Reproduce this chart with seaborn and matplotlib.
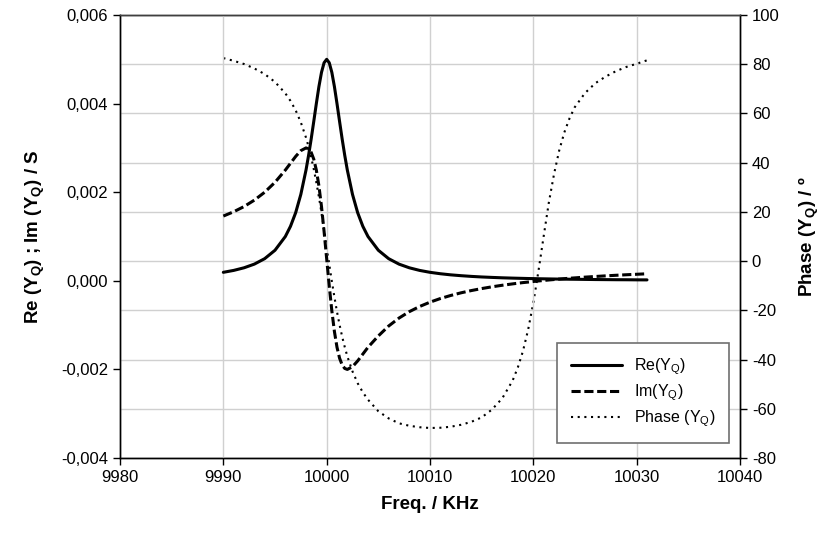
import matplotlib
matplotlib.use("Agg")
import matplotlib.pyplot as plt
from matplotlib.ticker import MultipleLocator, FuncFormatter
import numpy as np
import pandas as pd
import seaborn as sns

# ---- data ----
freq_khz = [9990, 9991, 9992, 9993, 9994, 9995, 9996, 9996.5, 9997, 9997.5,
            9998, 9998.25, 9998.5, 9998.75, 9999, 9999.25, 9999.5, 9999.75,
            10000, 10000.25, 10000.5, 10000.75, 10001, 10001.25, 10001.5,
            10001.75, 10002, 10002.5, 10003, 10003.5, 10004, 10005, 10006,
            10007, 10008, 10009, 10010, 10011, 10012, 10013, 10014, 10015,
            10016, 10017, 10018, 10018.5, 10019, 10019.5, 10020, 10020.5,
            10021, 10021.5, 10022, 10022.5, 10023, 10023.5, 10024, 10025,
            10026, 10027, 10028, 10029, 10030, 10031]

re_yq = [0.000192, 0.000235, 0.000294, 0.000377, 0.0005, 0.00069, 0.001,
         0.001231, 0.001538, 0.001951, 0.0025, 0.002832, 0.0032, 0.003596,
         0.004, 0.004384, 0.004706, 0.004923, 0.005, 0.004923, 0.004706,
         0.004384, 0.004, 0.003596, 0.0032, 0.002832, 0.0025, 0.001951,
         0.001538, 0.001231, 0.001, 0.00069, 0.0005, 0.000377, 0.000294,
         0.000235, 0.000192, 0.00016, 0.000135, 0.000116, 0.0001, 0.000087,
         0.000077, 0.000068, 0.000061, 0.000058, 0.000055, 0.000052, 0.00005,
         0.000047, 0.000045, 0.000043, 0.000041, 0.000039, 0.000038,
         0.000036, 0.000035, 0.000032, 0.000029, 0.000027, 0.000025,
         0.000024, 0.000022, 0.000021]

im_yq = [0.001462, 0.001559, 0.001676, 0.001821, 0.002, 0.002224, 0.0025,
         0.002654, 0.002808, 0.002939, 0.003, 0.002978, 0.0029, 0.002747,
         0.0025, 0.002144, 0.001676, 0.001115, 0.0005, -0.000115, -0.000676,
         -0.001144, -0.0015, -0.001747, -0.0019, -0.001978, -0.002,
         -0.001939, -0.001808, -0.001654, -0.0015, -0.001244, -0.00102,
         -0.000841, -0.000696, -0.000579, -0.000482, -0.0004, -0.000331,
         -0.000271, -0.00022, -0.000175, -0.000135, -0.0001, -0.000069,
         -0.000054, -0.00004, -0.000028, -0.000015, -0.000003, 0.000008,
         0.000019, 0.000029, 0.000039, 0.000049, 0.000058, 0.000066,
         0.000083, 0.000098, 0.000112, 0.000125, 0.000137, 0.000148,
         0.000159]

phase_yq = [82.5, 81.4, 80.1, 78.3, 76.0, 72.8, 68.2, 65.1, 61.3, 56.4,
            50.2, 46.5, 42.2, 37.4, 32.0, 26.1, 19.6, 12.8, 5.7, -1.3, -8.2,
            -14.6, -20.6, -25.9, -30.7, -34.9, -38.7, -44.8, -49.6, -53.3,
            -56.3, -61.0, -63.9, -65.9, -66.9, -67.5, -67.8, -67.7, -67.3,
            -66.5, -65.3, -63.5, -60.3, -55.7, -48.5, -43.2, -36.5, -27.8,
            -16.9, -3.9, 10.1, 23.8, 35.3, 44.9, 52.3, 58.0, 62.5, 68.3,
            72.3, 75.0, 77.2, 78.9, 80.2, 81.6]

x_ticks = [9980, 9990, 10000, 10010, 10020, 10030, 10040]
series_labels = ["Re(Y$_\\mathregular{Q}$)", "Im(Y$_\\mathregular{Q}$)",
                 "Phase (Y$_\\mathregular{Q}$)"]

df = pd.DataFrame({"freq": freq_khz, "re": re_yq, "im": im_yq,
                   "phase": phase_yq})

# ---- style ----
sns.set_style("white")
plt.rcParams["font.family"] = ["Liberation Sans", "DejaVu Sans"]
plt.rcParams["text.color"] = "black"
plt.rcParams["axes.labelcolor"] = "black"
plt.rcParams["xtick.color"] = "black"
plt.rcParams["ytick.color"] = "black"

fig = plt.figure(figsize=(8.27, 5.35), dpi=100)
ax = fig.add_axes([0.1451, 0.1439, 0.7497, 0.8280])
ax2 = ax.twinx()

# put left axes (Re/Im) on top of the twin
ax.set_zorder(ax2.get_zorder() + 1)
ax.patch.set_visible(False)
ax2.patch.set_visible(True)
ax2.patch.set_facecolor("white")

sns.lineplot(data=df, x="freq", y="phase", ax=ax2, color="black",
             linewidth=1.5, linestyle=(0, (1, 2.2)), sort=False,
             legend=False, label=series_labels[2])
sns.lineplot(data=df, x="freq", y="re", ax=ax, color="black",
             linewidth=2.2, sort=False, legend=False, label=series_labels[0])
sns.lineplot(data=df, x="freq", y="im", ax=ax, color="black",
             linewidth=2.2, linestyle=(0, (3, 1.2)), sort=False,
             legend=False, label=series_labels[1])

ax.set_xlim(9980, 10040)
ax.set_ylim(-0.004, 0.006)
ax2.set_ylim(-80, 100)
ax.set_xticks(x_ticks)
ax.yaxis.set_major_locator(MultipleLocator(0.002))
ax2.yaxis.set_major_locator(MultipleLocator(20))


def comma_fmt(v, pos):
    if abs(v) < 1e-12:
        v = 0.0
    return f"{v:.3f}".replace(".", ",")


ax.yaxis.set_major_formatter(FuncFormatter(comma_fmt))
ax2.yaxis.set_major_formatter(FuncFormatter(lambda v, p: f"{v:.0f}"))
ax.xaxis.set_major_formatter(FuncFormatter(lambda v, p: f"{v:.0f}"))

grid_col = "#d0d0d0"
ax.grid(axis="x", color=grid_col, linewidth=1.0)
ax.grid(axis="y", visible=False)
ax2.grid(axis="y", color=grid_col, linewidth=1.0)

for a in (ax, ax2):
    for s in a.spines.values():
        s.set_visible(True)
        s.set_color("black")
        s.set_linewidth(1.0)
ax.spines["top"].set_color("#404040")

ax.tick_params(axis="both", direction="out", length=5, width=1,
               labelsize=12, bottom=True, left=True, colors="black")
ax2.tick_params(axis="y", direction="out", length=5, width=1,
                labelsize=12, right=True, colors="black")

ax.set_xlabel("Freq. / KHz", fontsize=13.5, fontweight="bold", labelpad=8)
ax.set_ylabel("Re (Y$_\\mathregular{Q}$) ; Im (Y$_\\mathregular{Q}$) / S",
              fontsize=13.5, fontweight="bold", labelpad=10)
ax2.set_ylabel("Phase (Y$_\\mathregular{Q}$) / º", fontsize=13.5,
               fontweight="bold", labelpad=12)

handles = ax.get_lines() + ax2.get_lines()
leg = ax.legend(handles, [h.get_label() for h in handles], loc="lower right",
                bbox_to_anchor=(0.982, 0.034), borderaxespad=0,
                frameon=True, fancybox=False, edgecolor="#707070",
                framealpha=1, fontsize=11.5, handlelength=3.2,
                handletextpad=0.75, labelspacing=0.35, borderpad=0.85)
leg.get_frame().set_linewidth(1.2)

fig.savefig("out.png", dpi=100)
